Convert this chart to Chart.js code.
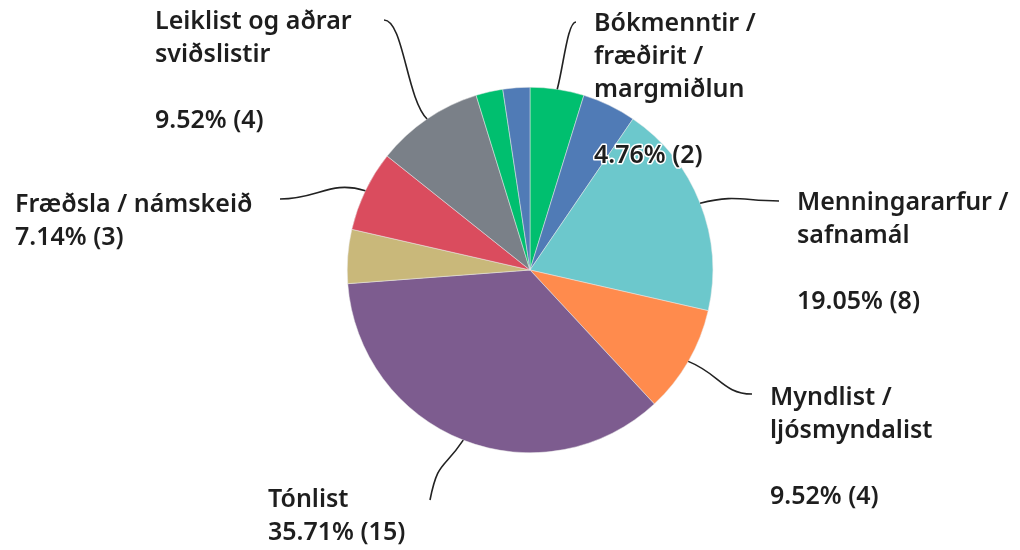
<!DOCTYPE html>
<html lang="is">
<head>
    <meta charset="UTF-8">
    <title>Skipting eftir listgreinum</title>
    <script src="https://cdn.jsdelivr.net/npm/chart.js"></script>
    <style>
        body { margin: 0; background: #ffffff; }
        #wrap { width: 1020px; height: 550px; }
    </style>
</head>
<body>
    <div id="wrap"><canvas id="pieChart" width="1020" height="550"></canvas></div>
    <script>
        // categories, clockwise from 12 o'clock
        const categories = [
            'Bókmenntir / fræðirit / margmiðlun',
            'Hönnun / arkitektúr',
            'Menningararfur / safnamál',
            'Myndlist / ljósmyndalist',
            'Tónlist',
            'Kvikmyndir',
            'Fræðsla / námskeið',
            'Leiklist og aðrar sviðslistir',
            'Fjöllistir',
            'Annað'
        ];
        const counts = [2, 2, 8, 4, 15, 2, 3, 4, 1, 1];
        const sliceColors = ['#00bf6f', '#507bb6', '#6cc8cc', '#ff8b4d', '#7d5c8f',
                             '#c9b87a', '#da4c5e', '#7a8088', '#00bf6f', '#507bb6'];

        // how each label is written (lines, blank line = ''), and where it sits
        const labelLines = {
            0: ['Bókmenntir /', 'fræðirit /', 'margmiðlun', ''],
            2: ['Menningararfur /', 'safnamál', ''],
            3: ['Myndlist /', 'ljósmyndalist', ''],
            4: ['Tónlist'],
            6: ['Fræðsla / námskeið'],
            7: ['Leiklist og aðrar', 'sviðslistir', '']
        };
        const labelPlace = {
            0: { x: 594, y: 24, lx: 576, ly: 22 },
            2: { x: 797, y: 203, lx: 779, ly: 201 },
            3: { x: 770, y: 398, lx: 752, ly: 394 },
            4: { x: 268, y: 500, lx: 430, ly: 500, up: true },
            6: { x: 15, y: 205, lx: 280, ly: 199 },
            7: { x: 155, y: 22, lx: 384, ly: 20 }
        };

        const total = counts.reduce((a, b) => a + b, 0);

        const labelPlugin = {
            id: 'sideLabels',
            afterDatasetsDraw(chart) {
                const ctx = chart.ctx;
                const meta = chart.getDatasetMeta(0);
                ctx.save();
                Object.keys(labelLines).forEach(k => {
                    const i = Number(k);
                    const arc = meta.data[i];
                    const mid = (arc.startAngle + arc.endAngle) / 2;
                    const ex = arc.x + Math.cos(mid) * arc.outerRadius;
                    const ey = arc.y + Math.sin(mid) * arc.outerRadius;
                    const p = labelPlace[i];

                    // leader line
                    ctx.strokeStyle = '#222222';
                    ctx.lineWidth = 1.6;
                    ctx.beginPath();
                    ctx.moveTo(ex, ey);
                    if (p.up) {
                        ctx.bezierCurveTo(ex - 20, ey + 30, p.lx + 8, p.ly - 40, p.lx, p.ly);
                    } else {
                        const dx = p.lx - ex;
                        ctx.bezierCurveTo(ex + dx * 0.15 + Math.cos(mid) * 25, ey + Math.sin(mid) * 25,
                                          p.lx - dx * 0.45, p.ly, p.lx, p.ly);
                    }
                    ctx.stroke();

                    // text
                    const pct = (counts[i] / total * 100).toFixed(2) + '% (' + counts[i] + ')';
                    const lines = labelLines[i].concat([pct]);
                    ctx.font = '600 25px "Noto Sans", sans-serif';
                    ctx.textBaseline = 'middle';
                    ctx.textAlign = 'left';
                    ctx.lineJoin = 'round';
                    lines.forEach((t, j) => {
                        if (!t) return;
                        const y = p.y + j * 33;
                        ctx.strokeStyle = '#ffffff';
                        ctx.lineWidth = 3;
                        ctx.strokeText(t, p.x, y);
                        ctx.fillStyle = '#1e1e1e';
                        ctx.fillText(t, p.x, y);
                    });
                });
                ctx.restore();
            }
        };

        const chart1 = document.getElementById('pieChart').getContext('2d');
        new Chart(chart1, {
            type: 'pie',
            data: {
                labels: categories,
                datasets: [{
                    data: counts,
                    backgroundColor: sliceColors,
                    borderColor: '#e8e8e8',
                    borderWidth: 0.5
                }]
            },
            options: {
                responsive: false,
                animation: false,
                layout: { padding: { left: 40, right: 0, top: 87, bottom: 97 } },
                plugins: {
                    legend: { display: false },
                    tooltip: { enabled: false }
                }
            },
            plugins: [labelPlugin]
        });
    </script>
</body>
</html>
